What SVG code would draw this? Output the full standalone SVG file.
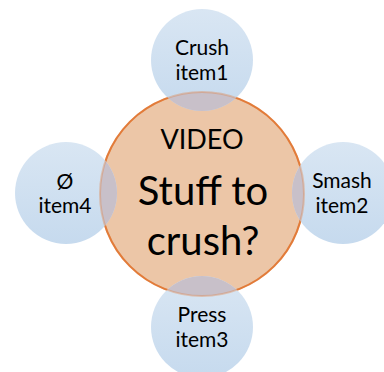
<svg xmlns="http://www.w3.org/2000/svg" width="384" height="372" viewBox="0 0 384 372">
<defs>
<linearGradient id="blueGrad" x1="0" y1="0" x2="0" y2="1">
<stop offset="0" stop-color="#D9E6F3"/>
<stop offset="1" stop-color="#C6DAEE"/>
</linearGradient>
<clipPath id="bigClip"><circle cx="202" cy="194" r="102"/></clipPath>
<style>
.small{fill:url(#blueGrad);}
.ov{fill:#C8C0C9;}
.big{fill:#ECC6A7;stroke:#E27C3A;stroke-width:2;}
.t{font-family:Lato,"Open Sans","Liberation Sans",sans-serif;fill:#000;text-anchor:middle;}
.s{font-size:21px;}
</style>
</defs>
<g id="center">
<circle class="big" cx="202" cy="194" r="102"/>
<text class="t" x="202" y="149" font-size="27">VIDEO</text>
<text class="t" x="203" y="205" font-size="40">Stuff to</text>
<text class="t" x="203" y="255" font-size="40">crush?</text>
</g>
<g id="item1">
<circle class="small" cx="202" cy="60" r="51"/>
<text class="t s" x="202" y="55">Crush</text>
<text class="t s" x="202" y="80">item1</text>
</g>
<g id="item2">
<circle class="small" cx="343" cy="193" r="51"/>
<text class="t s" x="342" y="188">Smash</text>
<text class="t s" x="342" y="213">item2</text>
</g>
<g id="item3">
<circle class="small" cx="202" cy="327" r="51"/>
<text class="t s" x="202" y="322">Press</text>
<text class="t s" x="202" y="347">item3</text>
</g>
<g id="item4">
<circle class="small" cx="66" cy="193" r="51"/>
<text class="t s" x="65" y="189">Ø</text>
<text class="t s" x="65" y="213">item4</text>
</g>
<g id="overlaps" clip-path="url(#bigClip)">
<circle class="ov" cx="202" cy="60" r="51"/>
<circle class="ov" cx="343" cy="193" r="51"/>
<circle class="ov" cx="202" cy="327" r="51"/>
<circle class="ov" cx="66" cy="193" r="51"/>
</g>
<circle cx="202" cy="194" r="102" fill="none" stroke="#E27C3A" stroke-width="2" stroke-opacity="0.35"/>
</svg>
